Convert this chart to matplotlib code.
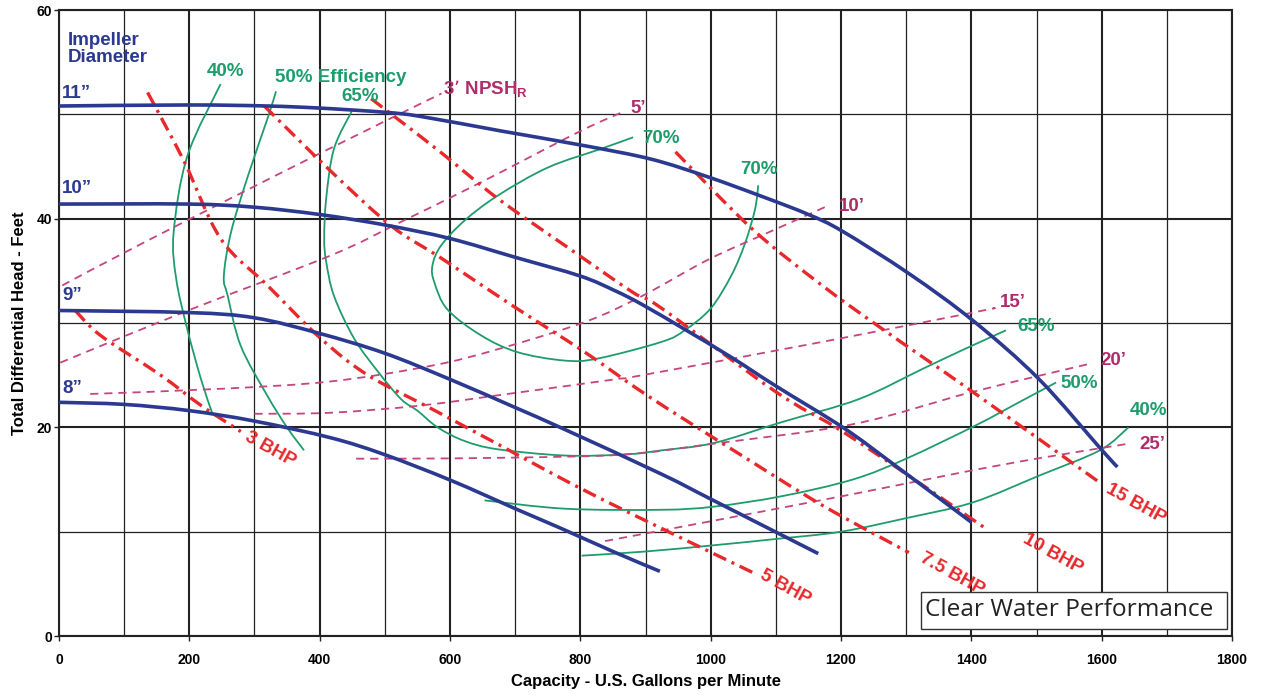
import matplotlib
matplotlib.use("Agg")
import matplotlib.pyplot as plt
from matplotlib.patches import Rectangle, PathPatch
from matplotlib.path import Path

plt.rcParams['font.family'] = ['Liberation Sans', 'DejaVu Sans']

# ---------------- data ----------------
# Impeller head curves (gpm, ft)
imp11_q = [0, 200, 320, 400, 500, 555, 679, 806, 909, 996, 1080, 1150, 1202, 1305, 1403, 1504, 1599, 1624]
imp11_h = [50.8, 50.9, 50.8, 50.6, 50.2, 49.8, 48.4, 47.0, 45.7, 44.0, 42.1, 40.4, 38.8, 34.7, 30.2, 24.6, 17.9, 16.2]
imp10_q = [0, 200, 300, 400, 500, 600, 700, 800, 853, 894, 960, 1032, 1099, 1205, 1284, 1400]
imp10_h = [41.4, 41.4, 41.1, 40.4, 39.4, 38.1, 36.3, 34.5, 33.1, 31.8, 29.4, 26.7, 24.0, 19.9, 16.3, 10.9]
imp9_q = [0, 200, 300, 400, 500, 600, 700, 776, 925, 1004, 1165]
imp9_h = [31.2, 31.0, 30.5, 29.0, 27.1, 24.6, 21.9, 19.8, 15.5, 13.0, 7.9]
imp8_q = [0, 100, 200, 300, 417, 499, 602, 704, 771, 850, 922]
imp8_h = [22.4, 22.2, 21.6, 20.6, 19.0, 17.4, 14.9, 12.1, 10.3, 8.1, 6.2]
impeller_labels = ["11\u201d", "10\u201d", "9\u201d", "8\u201d"]
impeller_label_h = [52.0, 42.9, 32.6, 23.7]

# Efficiency contours
eff40a_q = [248, 197, 176, 180, 197, 218, 235]
eff40a_h = [52.9, 46.0, 38.7, 34.2, 29.4, 24.6, 21.4]
eff40b_q = [802, 900, 1005, 1100, 1200, 1300, 1402, 1505, 1597, 1641]
eff40b_h = [7.7, 8.1, 8.7, 9.3, 10.0, 11.3, 12.8, 15.4, 17.8, 20.0]
eff50a_q = [333, 320, 290, 264, 253, 259, 279, 320, 351, 376]
eff50a_h = [52.2, 49.6, 44.1, 38.7, 34.5, 32.6, 27.8, 23.0, 19.9, 17.8]
eff50b_q = [653, 777, 925, 1005, 1109, 1218, 1300, 1407, 1470, 1530]
eff50b_h = [13.0, 12.2, 12.1, 12.4, 13.4, 15.0, 17.0, 20.2, 22.3, 24.3]
eff65_q = [451, 422, 410, 407, 410, 422, 453, 490, 525, 550, 581, 622, 673, 776, 868, 925, 1005, 1109, 1227, 1325, 1386, 1453]
eff65_h = [50.5, 46.7, 41.9, 38.1, 35.9, 32.6, 28.5, 25.3, 22.7, 21.6, 20.0, 18.7, 17.9, 17.3, 17.4, 17.8, 18.5, 20.5, 22.7, 25.6, 27.4, 29.3]
eff70_q = [881, 832, 750, 673, 622, 586, 573, 576, 596, 648, 704, 776, 827, 925, 960, 1000, 1032, 1053, 1068, 1073]
eff70_h = [47.8, 46.7, 44.9, 42.2, 39.8, 37.4, 35.5, 33.9, 31.3, 28.8, 27.2, 26.4, 26.6, 28.2, 29.3, 31.4, 34.6, 37.7, 40.9, 43.2]
eff_labels = ["40%", "50% Efficiency", "65%", "70%", "70%", "65%", "50%", "40%"]
eff_label_q = [255, 432, 462, 923, 1074, 1500, 1565, 1671]
eff_label_h = [54.1, 53.5, 51.7, 47.7, 44.7, 29.7, 24.2, 21.6]

# NPSH required curves
npsh3_q = [5, 136, 392, 587]
npsh3_h = [33.6, 37.9, 46.0, 52.0]
npsh5_q = [2, 202, 418, 525, 648, 797, 864]
npsh5_h = [26.2, 31.3, 36.5, 39.7, 43.5, 48.3, 50.2]
npsh10_q = [48, 250, 417, 571, 674, 807, 895, 997, 1100, 1182]
npsh10_h = [23.2, 23.7, 24.4, 25.9, 27.5, 30.1, 32.6, 36.1, 39.0, 41.3]
npsh15_q = [300, 417, 556, 700, 853, 895, 1172, 1402, 1433]
npsh15_h = [21.3, 21.4, 22.1, 23.3, 24.6, 25.0, 28.2, 31.0, 31.4]
npsh20_q = [456, 525, 700, 868, 1000, 1218, 1402, 1582]
npsh20_h = [17.0, 17.0, 17.1, 17.4, 18.4, 20.3, 23.4, 26.1]
npsh25_q = [838, 1000, 1218, 1387, 1500, 1638]
npsh25_h = [9.1, 11.0, 13.6, 15.7, 17.0, 18.4]
npsh_labels = ["5\u2019", "10\u2019", "15\u2019", "20\u2019", "25\u2019"]
npsh_label_q = [889, 1217, 1463, 1618, 1677]
npsh_label_h = [50.6, 41.2, 32.0, 26.4, 18.4]

# Brake horsepower curves
bhp3_q = [25, 64, 156, 218, 279]
bhp3_h = [31.2, 28.8, 25.0, 22.1, 19.6]
bhp5_q = [136, 192, 248, 320, 402, 474, 571, 673, 750, 827, 925, 1064]
bhp5_h = [52.1, 45.5, 38.1, 33.6, 28.5, 25.0, 21.8, 18.4, 15.8, 13.3, 10.3, 6.1]
bhp75_q = [315, 418, 510, 587, 695, 807, 904, 1040, 1172, 1304]
bhp75_h = [50.8, 44.5, 39.3, 36.2, 31.7, 27.2, 23.0, 17.6, 12.5, 8.0]
bhp10_q = [479, 525, 587, 674, 777, 879, 925, 1100, 1192, 1289, 1422]
bhp10_h = [51.5, 49.3, 46.3, 41.9, 37.4, 33.0, 31.4, 23.4, 20.0, 16.0, 10.3]
bhp15_q = [946, 1064, 1171, 1264, 1402, 1597]
bhp15_h = [46.4, 39.0, 33.6, 29.4, 23.4, 14.7]
bhp_labels = ["3 BHP", "5 BHP", "7.5 BHP", "10 BHP", "15 BHP"]
bhp_label_q = [325, 1114, 1371, 1525, 1652]
bhp_label_h = [17.9, 4.7, 5.9, 7.9, 12.7]

x_ticks = [0, 200, 400, 600, 800, 1000, 1200, 1400, 1600, 1800]
y_ticks = [0, 20, 40, 60]

# ---------------- styling ----------------
BLUE = '#2B3990'
GREEN = '#1E9C6C'
MAGENTA = '#C4467E'
MAG_TXT = '#B02C6A'
RED = '#E8282B'


def smooth_curve(ax, q, h, **kw):
    """Draw a smooth curve through the read points (Catmull-Rom as cubic Bezier)."""
    pts = list(zip(q, h))
    n = len(pts)
    verts = [pts[0]]
    codes = [Path.MOVETO]
    for i in range(n - 1):
        p0 = pts[i - 1] if i > 0 else pts[i]
        p1 = pts[i]
        p2 = pts[i + 1]
        p3 = pts[i + 2] if i + 2 < n else pts[i + 1]
        c1 = (p1[0] + (p2[0] - p0[0]) / 6.0, p1[1] + (p2[1] - p0[1]) / 6.0)
        c2 = (p2[0] - (p3[0] - p1[0]) / 6.0, p2[1] - (p3[1] - p1[1]) / 6.0)
        verts += [c1, c2, p2]
        codes += [Path.CURVE4, Path.CURVE4, Path.CURVE4]
    patch = PathPatch(Path(verts, codes), fill=False, transform=ax.transData, **kw)
    ax.add_patch(patch)
    return patch


fig = plt.figure(figsize=(12.65, 6.96), dpi=100)
ax = fig.add_axes([0.0466, 0.0862, 0.9274, 0.8994])
ax.set_xlim(0, 1800)
ax.set_ylim(0, 60)

# grid
for gx in range(0, 1801, 100):
    ax.axvline(gx, color='#222222', lw=1.5 if gx % 200 == 0 else 0.9, zorder=0.5)
for gy in range(0, 61, 10):
    ax.axhline(gy, color='#222222', lw=1.5 if gy % 20 == 0 else 0.9, zorder=0.5)

# efficiency
for q, h in [(eff40a_q, eff40a_h), (eff40b_q, eff40b_h), (eff50a_q, eff50a_h),
             (eff50b_q, eff50b_h), (eff65_q, eff65_h), (eff70_q, eff70_h)]:
    smooth_curve(ax, q, h, edgecolor=GREEN, lw=1.3, zorder=2)

# NPSH
for q, h in [(npsh3_q, npsh3_h), (npsh5_q, npsh5_h), (npsh10_q, npsh10_h),
             (npsh15_q, npsh15_h), (npsh20_q, npsh20_h), (npsh25_q, npsh25_h)]:
    smooth_curve(ax, q, h, edgecolor=MAGENTA, lw=1.3, linestyle=(0, (4.5, 3.3)), zorder=2)

# BHP
for q, h in [(bhp3_q, bhp3_h), (bhp5_q, bhp5_h), (bhp75_q, bhp75_h),
             (bhp10_q, bhp10_h), (bhp15_q, bhp15_h)]:
    smooth_curve(ax, q, h, edgecolor=RED, lw=2.4, linestyle=(0, (4.2, 1.8, 0.9, 1.8)),
                 zorder=3, capstyle='butt')

# impellers
for q, h in [(imp11_q, imp11_h), (imp10_q, imp10_h), (imp9_q, imp9_h), (imp8_q, imp8_h)]:
    smooth_curve(ax, q, h, edgecolor=BLUE, lw=2.6, zorder=4, capstyle='butt')

# labels
tkw = dict(fontweight='bold', fontsize=13.5)
ax.text(14, 57.9, "Impeller\nDiameter", color=BLUE, ha='left', va='top',
        linespacing=1.0, **tkw)
for lab, h in zip(impeller_labels, impeller_label_h):
    ax.text(5, h, lab, color=BLUE, ha='left', va='center', **tkw)
for lab, q, h in zip(eff_labels, eff_label_q, eff_label_h):
    ax.text(q, h, lab, color=GREEN, ha='center', va='center', **tkw)
ax.text(590, 52.4, "3\u2019 NPSH$_\\mathregular{R}$", color=MAG_TXT, ha='left',
        va='center', **tkw)
for lab, q, h in zip(npsh_labels, npsh_label_q, npsh_label_h):
    ax.text(q, h, lab, color=MAG_TXT, ha='center', va='center', **tkw)
for lab, q, h in zip(bhp_labels, bhp_label_q, bhp_label_h):
    ax.text(q, h, lab, color=RED, ha='center', va='center', rotation=-29,
            rotation_mode='anchor', **tkw)

# clear water box
ax.add_patch(Rectangle((1323, 0.7), 469, 3.5, facecolor='white',
                       edgecolor='#333333', lw=1.0, zorder=5))
ax.text(1329, 2.45, "Clear Water Performance", family=['Open Sans', 'DejaVu Sans'],
        fontsize=17.6, color='#222222', ha='left', va='center', zorder=6)

# axes
ax.set_xticks(x_ticks)
ax.set_yticks(y_ticks)
ax.tick_params(axis='both', length=3.5, width=1, labelsize=10, color='#222222')
ax.tick_params(axis='x', pad=9)
ax.tick_params(axis='y', pad=1.5)
for lbl in ax.get_xticklabels() + ax.get_yticklabels():
    lbl.set_fontweight('bold')
for s in ax.spines.values():
    s.set_color('#222222')
    s.set_linewidth(1.5)
ax.set_xlabel("Capacity - U.S. Gallons per Minute", fontsize=12, fontweight='bold', labelpad=5)
ax.set_ylabel("Total Differential Head - Feet", fontsize=12, fontweight='bold', labelpad=7)

fig.savefig("out.png", dpi=100)
